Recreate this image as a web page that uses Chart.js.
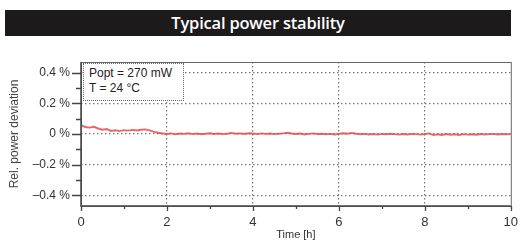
<!DOCTYPE html>
<html>
<head>
<meta charset="utf-8">
<script src="https://cdn.jsdelivr.net/npm/chart.js@4.4.1/dist/chart.umd.min.js"></script>
<style>
  html, body { margin: 0; padding: 0; background: #fff; }
  #wrap { position: relative; width: 527px; height: 242px; }
  #title {
    position: absolute; left: 5px; top: 10px; width: 506px; height: 26px;
    background: #1c1a1b; color: #fff; text-align: center;
    font: 600 16.5px "Open Sans", sans-serif; line-height: 26px; letter-spacing: -0.2px;
  }
  #note {
    position: absolute; left: 83px; top: 63px; width: 101px; height: 38px;
    border: 1px dotted #666; box-sizing: border-box; background: #fff;
    font: 12px "Liberation Sans", Arial, sans-serif; color: #222;
    padding: 2px 0 0 5px; line-height: 15px;
  }
</style>
</head>
<body>
<div id="wrap">
  <canvas id="chart" width="527" height="242"></canvas>
  <div id="title">Typical power stability</div>
  <div id="note">Popt = 270 mW<br>T = 24 °C</div>
</div>
<script>
// time in hours
var hours = [0.0,0.1,0.2,0.3,0.4,0.5,0.6,0.7,0.8,0.9,
  1.0,1.1,1.2,1.3,1.4,1.5,1.6,1.7,1.8,1.9,
  2.0,2.1,2.2,2.3,2.4,2.5,2.6,2.7,2.8,2.9,
  3.0,3.1,3.2,3.3,3.4,3.5,3.6,3.7,3.8,3.9,
  4.0,4.1,4.2,4.3,4.4,4.5,4.6,4.7,4.8,4.9,
  5.0,5.1,5.2,5.3,5.4,5.5,5.6,5.7,5.8,5.9,
  6.0,6.1,6.2,6.3,6.4,6.5,6.6,6.7,6.8,6.9,
  7.0,7.1,7.2,7.3,7.4,7.5,7.6,7.7,7.8,7.9,
  8.0,8.1,8.2,8.3,8.4,8.5,8.6,8.7,8.8,8.9,
  9.0,9.1,9.2,9.3,9.4,9.5,9.6,9.7,9.8,9.9,10.0];
// relative power deviation in %
var deviation = [0.058,0.046,0.042,0.047,0.036,0.028,0.032,0.020,0.024,0.019,
  0.025,0.022,0.027,0.023,0.028,0.030,0.024,0.014,0.008,0.003,
  0.000,0.004,-0.002,0.003,0.001,0.005,-0.001,0.003,-0.002,0.002,
  0.005,0.000,0.003,-0.001,0.002,0.007,0.002,0.004,0.000,0.005,
  0.003,-0.001,0.004,0.001,0.003,-0.001,0.002,0.004,0.008,0.003,
  0.000,0.003,-0.003,0.001,0.004,0.000,0.002,-0.002,0.001,-0.003,
  0.001,0.005,0.002,0.007,0.002,-0.002,0.001,-0.003,0.000,-0.004,
  0.001,-0.002,0.002,-0.001,-0.004,0.000,-0.003,0.001,-0.001,-0.004,
  0.000,0.004,-0.007,-0.002,-0.006,0.000,-0.005,-0.002,-0.006,-0.001,
  -0.004,-0.002,-0.005,0.000,-0.003,-0.001,0.001,-0.003,0.000,-0.002,-0.001];
var yTicks = [-0.4,-0.3,-0.2,-0.1,0,0.1,0.2,0.3,0.4];
var yLabels = {"0.4":"0.4 %","0.2":"0.2 %","0":"0 %","-0.2":"\u20130.2 %","-0.4":"\u20130.4 %"};
var xTicks = [0,1,2,3,4,5,6,7,8,9,10];
var xLabels = {"0":"0","2":"2","4":"4","6":"6","8":"8","10":"10"};

var pts = hours.map(function(h, i){ return {x: h, y: deviation[i]}; });

// frame + short tick marks (major longer than minor)
var frameTicks = {
  id: 'frameTicks',
  afterDraw: function(chart){
    var c = chart.ctx, a = chart.chartArea;
    var xs = chart.scales.x, ys = chart.scales.y;
    c.save();
    c.strokeStyle = '#666'; c.lineWidth = 1;
    c.strokeRect(a.left + 0.5, a.top + 0.5, a.right - a.left, a.bottom - a.top);
    c.strokeStyle = '#444'; c.lineWidth = 1.5;
    c.beginPath();
    c.moveTo(a.left, a.top); c.lineTo(a.left, a.bottom); c.lineTo(a.right, a.bottom);
    c.stroke();
    c.lineWidth = 1.3;
    c.beginPath();
    yTicks.forEach(function(v){
      var p = Math.round(ys.getPixelForValue(v)) + 0.5;
      var len = yLabels[String(v)] ? 9 : 5;
      c.moveTo(a.left - len, p); c.lineTo(a.left, p);
    });
    xTicks.forEach(function(v){
      var p = Math.round(xs.getPixelForValue(v)) + 0.5;
      var len = xLabels[String(v)] ? 5 : 3;
      c.moveTo(p, a.bottom); c.lineTo(p, a.bottom + len);
    });
    c.stroke();
    c.restore();
  }
};

new Chart(document.getElementById('chart'), {
  type: 'line',
  data: {
    datasets: [{
      data: pts,
      borderColor: 'rgba(230,75,75,0.85)',
      borderWidth: 1.9,
      pointRadius: 0,
      tension: 0
    }]
  },
  options: {
    responsive: false,
    animation: false,
    layout: { padding: { top: 62, right: 11, left: 0, bottom: 0 } },
    plugins: { legend: { display: false }, tooltip: { enabled: false } },
    scales: {
      x: {
        type: 'linear', min: 0, max: 10,
        afterBuildTicks: function(s){ s.ticks = xTicks.map(function(v){ return {value: v}; }); },
        afterFit: function(s){ s.height = 36; },
        border: { display: false, dash: [1.5, 2.5] },
        grid: {
          drawTicks: false, lineWidth: 1.2,
          color: function(ctx){ var v = ctx.tick && ctx.tick.value; return (v === 2 || v === 4 || v === 6 || v === 8) ? '#777' : 'rgba(0,0,0,0)'; }
        },
        ticks: {
          autoSkip: false, maxRotation: 0, padding: 9, color: '#333',
          font: { family: 'Liberation Sans', size: 13 },
          callback: function(v){ return xLabels[String(v)] || ''; }
        },
        title: {
          display: true, text: 'Time [h]', color: '#333', padding: { top: 0, bottom: 0 },
          font: { family: 'Liberation Sans', size: 11 }
        }
      },
      y: {
        type: 'linear', min: -0.47, max: 0.47,
        afterBuildTicks: function(s){ s.ticks = yTicks.map(function(v){ return {value: v}; }); },
        afterFit: function(s){ s.width = 81; },
        border: { display: false, dash: [1.5, 2.5] },
        grid: {
          drawTicks: false, lineWidth: 1.2,
          color: function(ctx){ var v = ctx.tick && ctx.tick.value; return (ctx.tick && yLabels[String(v)]) ? '#777' : 'rgba(0,0,0,0)'; }
        },
        ticks: {
          autoSkip: false, padding: 11, color: '#333',
          font: { family: 'Liberation Sans', size: 12 },
          callback: function(v){ return yLabels[String(Math.round(v * 10) / 10)] || ''; }
        },
        title: {
          display: true, text: 'Rel. power deviation', color: '#444', padding: { top: 7, bottom: 0 },
          font: { family: 'Liberation Sans', size: 12 }
        }
      }
    }
  },
  plugins: [frameTicks]
});
</script>
</body>
</html>
